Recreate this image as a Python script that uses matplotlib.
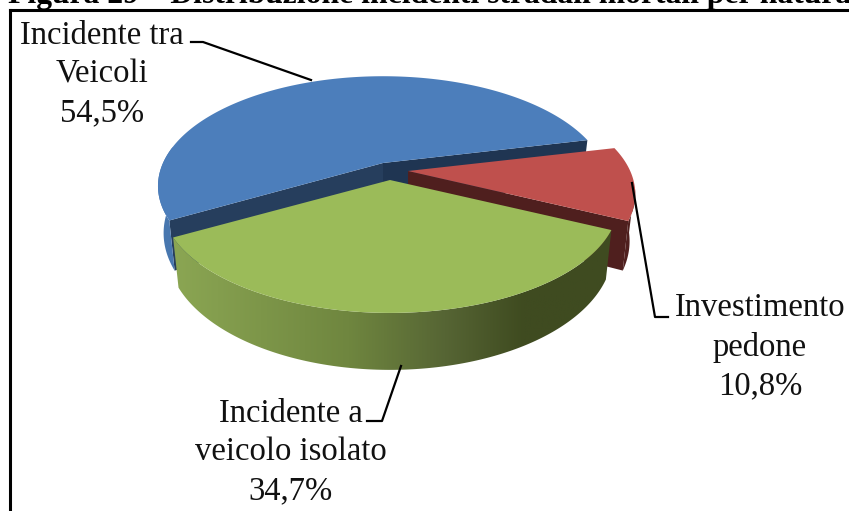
import numpy as np
import matplotlib
matplotlib.use('Agg')
import matplotlib.pyplot as plt
from matplotlib.colors import LinearSegmentedColormap
from matplotlib.patches import Polygon

plt.rcParams['font.family'] = ['Liberation Serif', 'DejaVu Serif']

title = 'Figura 29 \u2013 Distribuzione incidenti stradali mortali per natura'
# counter clockwise from the right tip of the blue slice
categories = ['Incidente tra\nVeicoli', 'Incidente a\nveicolo isolato', 'Investimento\npedone']
values = [54.5, 34.7, 10.8]

colors_top = ['#4c7ebb', '#9bbb59', '#bf504d']
first_angle = 13.2

# fake perspective of the tilted pie
rx, ry, k = 220, 105, 0.21
depth, shrink = 45, 0.975
apex = [(383, 163), (390, 180), (408, 171)]
widen = [1, 1.015, 1.01]
layer = [2, 8, 5]


def ring(t, c, drop=False, scale=1):
    u = np.cos(np.radians(t))
    v = np.sin(np.radians(t))
    w = 1 + k * v
    x = scale * rx * u / w
    y = -ry * v / w
    if drop:
        x = x * shrink
        y = y + depth / w
    return np.column_stack([c[0] + x, c[1] + y])


fig = plt.figure(figsize=(8.49, 5.11), dpi=100)
ax = fig.add_axes([0, 0, 1, 1])

fractions = np.array(values) / sum(values) * 360
starts = first_angle + np.concatenate([[0], np.cumsum(fractions)[:-1]])
ends = starts + fractions

for i in range(3):
    t = np.linspace(starts[i], ends[i], 200)
    c = apex[i]
    top = ring(t, c, scale=widen[i])
    low = ring(t, c, True, scale=widen[i])
    z = layer[i]
    if i == 0:
        # two cut walls and the outer wall on the left
        ax.fill([c[0], top[0][0], low[0][0], c[0]], [c[1], top[0][1], low[0][1], c[1] + depth],
                color='#1f3552', lw=0, zorder=z)
        ax.fill([c[0], top[-1][0], low[-1][0], c[0]], [c[1], top[-1][1], low[-1][1], c[1] + depth],
                color='#263e5d', lw=0, zorder=z)
        s = t > 170
        ax.fill(np.r_[top[s, 0], low[s, 0][::-1]], np.r_[top[s, 1], low[s, 1][::-1]],
                color='#4877af', lw=0, zorder=z)
    if i == 1:
        cmap = LinearSegmentedColormap.from_list('side', [(0, '#8ba653'), (0.4, '#6f863f'),
                                                         (0.62, '#566534'), (0.8, '#3f4b20'), (1, '#3f4b20')])
        wall = Polygon(np.r_[top, low[::-1]], closed=True, transform=ax.transData, fc='none', lw=0)
        ax.add_patch(wall)
        ax.imshow(np.linspace(0, 1, 256).reshape(1, -1), cmap=cmap, aspect='auto',
                  extent=[top[:, 0].min(), top[:, 0].max(), 380, 220], clip_path=wall, zorder=z)
    if i == 2:
        ax.fill([c[0], top[0][0], low[0][0], c[0]], [c[1], top[0][1], low[0][1], c[1] + depth],
                color='#4f1f1e', lw=0, zorder=z)
        # only the part of the rim that faces the viewer
        s = t < 352
        ax.fill(np.r_[top[s, 0], low[s, 0][::-1]], np.r_[top[s, 1], low[s, 1][::-1]],
                color='#4f1f1e', lw=0, zorder=z)
    ax.fill(np.r_[c[0], top[:, 0]], np.r_[c[1], top[:, 1]], color=colors_top[i], lw=0, zorder=z + 1)

# leader lines
ax.plot([191, 203, 311], [42, 42, 80], color='black', lw=1.6, zorder=20)
ax.plot([632, 655, 668], [183, 317, 317], color='black', lw=1.6, zorder=20)
ax.plot([401, 382, 367], [366, 421, 421], color='black', lw=1.6, zorder=20)

# data labels
label_pos = [(102, 74), (291, 452), (760, 347)]
for lab, val, p in zip(categories, values, label_pos):
    txt = lab + '\n' + ('%.1f%%' % val).replace('.', ',')
    ax.text(p[0], p[1], txt, ha='center', va='center', fontsize=23.5, linespacing=1.35, color='#111111', zorder=21)

# frame of the chart, cut by the page
ax.plot([10, 10], [511, 10], color='black', lw=2.2, zorder=30, solid_capstyle='projecting')
ax.plot([10, 849], [10, 10], color='black', lw=2.2, zorder=30)
ax.text(8, 3, title, fontsize=22.8, fontweight='bold', color='black', ha='left', va='baseline', zorder=31)

ax.set_xlim(0, 849)
ax.set_ylim(511, 0)
ax.axis('off')
fig.savefig('out.png', dpi=100)
plt.close(fig)
